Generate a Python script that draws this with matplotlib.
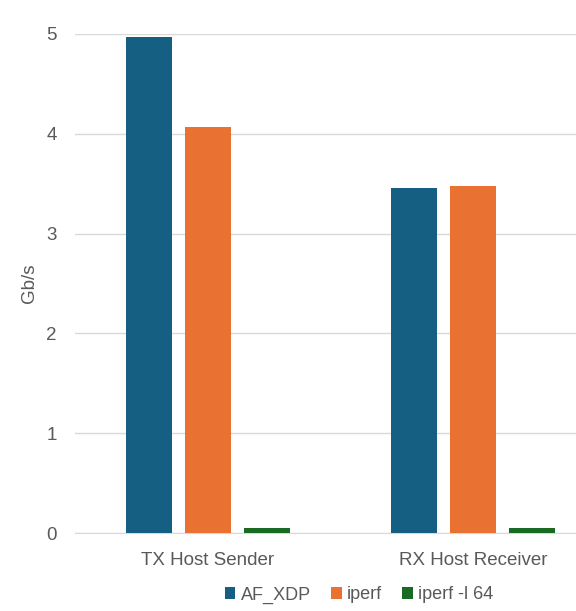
import numpy as np
import matplotlib.pyplot as plt

plt.rcParams['font.family'] = ['Liberation Sans', 'DejaVu Sans']

categories = ["TX Host Sender", "RX Host Receiver"]
series_names = ["AF_XDP", "iperf", "iperf -l 64"]
af_xdp = [4.97, 3.46]
iperf = [4.07, 3.48]
iperf_l64 = [0.05, 0.05]
colors = ["#156082", "#E97132", "#196B24"]

text_color = "#595959"

fig = plt.figure(figsize=(5.76, 6.11), dpi=100)
ax = fig.add_axes([75 / 576, 78 / 611, 501 / 576, 499 / 611])

x = np.arange(len(categories))
width = 46 / 265
pitch = 59 / 265
for i, (vals, name) in enumerate(zip([af_xdp, iperf, iperf_l64], series_names)):
    ax.bar(x + (i - 1) * pitch, vals, width, color=colors[i], label=name, zorder=3)

ax.set_xlim(-133 / 265, (576 - 208) / 265)
ax.set_ylim(0, 5)
ax.set_yticks(range(6))
ax.yaxis.grid(True, color="#d9d9d9", linewidth=1, zorder=0)
for side in ["top", "right", "left"]:
    ax.spines[side].set_visible(False)
ax.spines["bottom"].set_color("#d9d9d9")
ax.tick_params(axis="both", length=0, labelsize=13.5, colors=text_color)
ax.tick_params(axis="y", pad=13)
ax.tick_params(axis="x", pad=14)
ax.set_xticks(x)
ax.set_xticklabels(categories)
ax.set_ylabel("Gb/s", fontsize=13.5, color=text_color, labelpad=6)

ax.legend(loc="center", bbox_to_anchor=((359 - 75) / 501, -62 / 499), ncol=3,
          frameon=False, fontsize=13, handlelength=0.6, handleheight=0.6,
          handletextpad=0.3, columnspacing=1.1, labelcolor=text_color)

fig.savefig("out.png", dpi=100)
